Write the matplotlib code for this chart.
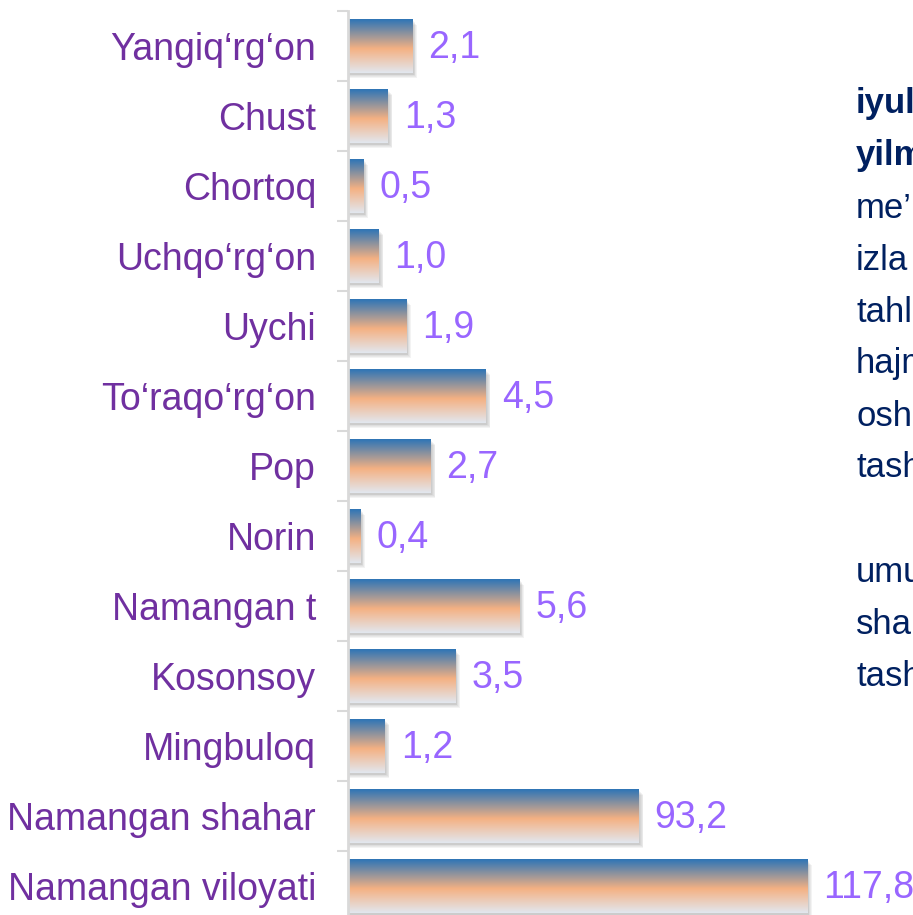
import numpy as np
import matplotlib.pyplot as plt
from matplotlib.colors import LinearSegmentedColormap
from matplotlib.patches import Rectangle

plt.rcParams['font.family'] = ['Liberation Sans', 'DejaVu Sans']

districts = ['Yangiq‘rg‘on', 'Chust', 'Chortoq', 'Uchqo‘rg‘on', 'Uychi',
             'To‘raqo‘rg‘on', 'Pop', 'Norin', 'Namangan t', 'Kosonsoy',
             'Mingbuloq', 'Namangan shahar', 'Namangan viloyati']
# bar lengths as drawn in the picture (the two totals are not to scale)
bar_len = [2.1, 1.3, 0.5, 1.0, 1.9, 4.5, 2.7, 0.4, 5.6, 3.5, 1.2, 9.5, 15.0]
value_labels = ['2,1', '1,3', '0,5', '1,0', '1,9', '4,5', '2,7', '0,4',
                '5,6', '3,5', '1,2', '93,2', '117,8']

# text on the right, cut off by the picture edge
side_lines = ['iyul', 'yilm', 'me’', 'izla', 'tahl', 'hajm', 'osh', 'tash',
              '', 'umu', 'sha', 'tash']
side_bold = [True, True] + [False] * 10

W, H = 913, 915
fig = plt.figure(figsize=(W / 100, H / 100), dpi=100)
ax = fig.add_axes([348 / W, (H - 921) / H, 1 - 348 / W, 910 / H])

grad = LinearSegmentedColormap.from_list(
    'g', [(0, '#2E75B6'), (0.55, '#F4B183'), (1.0, '#E2E7EF')])
gimg = np.linspace(0, 1, 200).reshape(-1, 1)

h = 0.76
px = 1 / 30.6  # one pixel in data units (x)
py = 1 / 70    # one pixel in data units (y)
for i, (v, lab) in enumerate(zip(bar_len, value_labels)):
    # soft shadow
    for k in range(5):
        ax.add_patch(Rectangle((0, i - h / 2 + (2 + k * 0.8) * py),
                               v + (1.5 + k * 0.8) * px, h,
                               color='#606060', alpha=0.07, lw=0, zorder=1))
    ax.imshow(gimg, cmap=grad, aspect='auto', zorder=2,
              extent=(0, v, i + h / 2, i - h / 2), interpolation='bilinear')
    ax.text(v + 16 * px, i + 2 * py, lab, color='#9966FF', fontsize=27,
            va='center', ha='left', zorder=3)

ax.set_xlim(0, (W - 348) / 30.6)
ax.set_ylim(len(districts) - 0.5, -0.5)

ax.set_yticks(range(len(districts)))
ax.set_yticklabels(districts, color='#7030A0', fontsize=27)
ax.tick_params(axis='y', length=0, pad=23)
ax.set_yticks(np.arange(-0.5, len(districts), 1), minor=True)
ax.tick_params(axis='y', which='minor', length=8, width=1.5, color='#D9D9D9')
ax.set_xticks([])
for s in ['top', 'right', 'bottom']:
    ax.spines[s].set_visible(False)
ax.spines['left'].set_color('#D9D9D9')
ax.spines['left'].set_linewidth(2)

y0 = 104
for j, (t, b) in enumerate(zip(side_lines, side_bold)):
    fig.text(856 / W, 1 - (y0 + j * 52) / H, t, color='#002060',
             fontsize=25, fontweight='bold' if b else 'normal', va='center')

fig.savefig('out.png', dpi=100)
